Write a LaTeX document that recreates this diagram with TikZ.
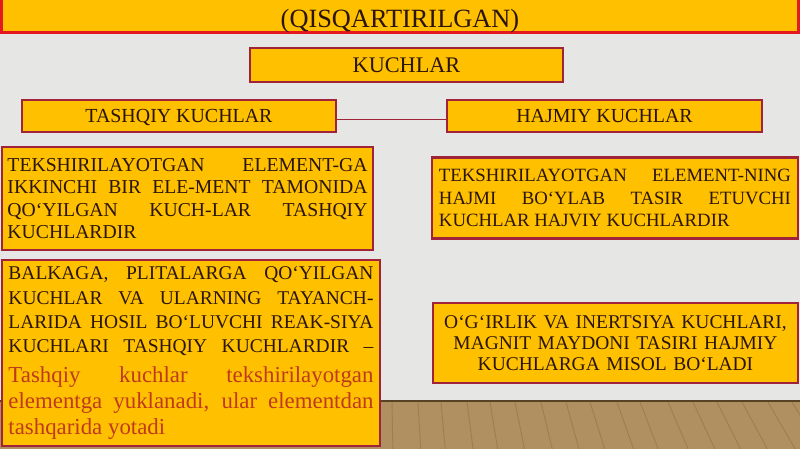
\documentclass[tikz,border=0pt]{standalone}
\usepackage{fontspec}
\setmainfont{Liberation Serif}
\definecolor{boxfill}{HTML}{FFC000}
\definecolor{boxline}{HTML}{A0233A}
\definecolor{titleline}{HTML}{E3191F}
\definecolor{inktext}{HTML}{2B1509}
\definecolor{redtext}{HTML}{BF3A1C}
\definecolor{wall}{HTML}{E6E6E4}
\definecolor{floorwood}{HTML}{B08F60}
\definecolor{plank}{HTML}{7E5E36}
\hyphenpenalty=10000
\exhyphenpenalty=10000

\begin{document}
\begin{tikzpicture}[x=0.03cm, y=-0.03cm,
  every node/.style={fill=boxfill, draw=boxline, line width=2.4pt, text=inktext, inner sep=0pt},
  head/.style={font=\fontsize{17}{20}\selectfont, text height=11.3pt, text depth=0pt, minimum height=0.96cm},
  body/.style={font=\fontsize{16}{19.2}\selectfont, align=justify}]
  \useasboundingbox (0,0) rectangle (800,449);
  % wall and floor
  \fill[wall] (0,0) rectangle (800,401);
  \fill[floorwood] (0,401) rectangle (800,449);
  \foreach \x in {392,418,441,467,490,515,541,566,590,617,640,668,693,717,742,768,792}
    \draw[plank, opacity=.35, line width=.8pt] (\x,402) -- ({\x+(\x-380)*0.07},449);
  \draw[plank!70!black, line width=1.2pt] (0,401) -- (800,401);

  % banner
  \draw[fill=boxfill, draw=titleline, line width=2.6pt] (1.5,-12) rectangle (798.5,32.5);
  \node (title) [fill=none, draw=none, font=\fontsize{22.5}{26}\selectfont, text height=15pt, text depth=0pt] at (400,19) {(QISQARTIRILGAN)};

  \node (kuchlar) [minimum width=9.39cm, minimum height=1.02cm, font=\fontsize{19}{22}\selectfont, text height=12.6pt, text depth=0pt] at (406.5,65) {KUCHLAR};
  \node (tashqiy) [head, minimum width=9.42cm] at (179,116) {TASHQIY KUCHLAR};
  \node (hajmiy) [head, minimum width=9.45cm] at (604.5,116) {HAJMIY KUCHLAR};
  \draw[boxline, line width=1.6pt] ([yshift=-3pt]tashqiy.east) -- ([yshift=-3pt]hajmiy.west);

  \node (tashqiyA) [body, font=\fontsize{16.8}{19.2}\selectfont, text width=10.8cm, minimum width=11.13cm, minimum height=3.09cm] at (187.5,198.5)
    {TEKSHIRILAYOTGAN ELEMENT-GA\linebreak IKKINCHI BIR ELE-MENT TAMONIDA\linebreak QO‘YILGAN KUCH-LAR TASHQIY\linebreak KUCHLARDIR};
  \node (tashqiyB) [body, text width=10.95cm, minimum width=11.34cm, minimum height=5.58cm] at (191,353)
    {{\fontsize{16.6}{20.8}\selectfont\parfillskip=0pt BALKAGA, PLITALARGA QO‘YILGAN\linebreak KUCHLAR VA ULARNING TAYANCH-\linebreak LARIDA HOSIL BO‘LUVCHI REAK-SIYA\linebreak KUCHLARI TASHQIY KUCHLARDIR –\par}
     \vskip 3.5pt
     {\color{redtext}\fontsize{19.5}{22}\selectfont Tashqiy kuchlar tekshirilayotgan\linebreak elementga yuklanadi, ular elementdan\linebreak tashqarida yotadi\par}};
  \node (hajmiyA) [body, text width=10.56cm, minimum width=10.98cm, minimum height=2.43cm] at (615,198)
    {TEKSHIRILAYOTGAN ELEMENT-NING\linebreak HAJMI BO‘YLAB TASIR ETUVCHI\linebreak KUCHLAR HAJVIY KUCHLARDIR};
  \node (hajmiyB) [body, font=\fontsize{16.6}{18}\selectfont, align=center, text width=10.56cm, minimum width=10.95cm, minimum height=2.4cm] at (615.5,343)
    {O‘G‘IRLIK VA INERTSIYA KUCHLARI,\\ MAGNIT MAYDONI TASIRI HAJMIY\\ KUCHLARGA MISOL BO‘LADI};
\end{tikzpicture}
\end{document}
